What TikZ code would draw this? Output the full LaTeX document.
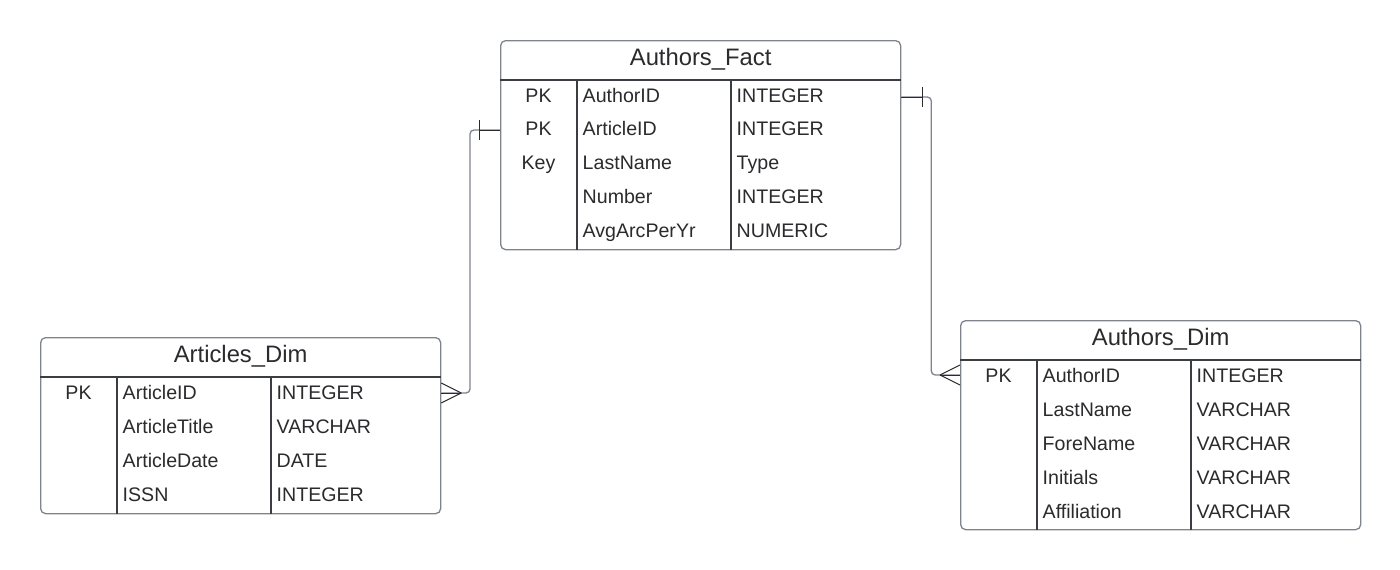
\documentclass[tikz,border=0pt]{standalone}
\usepackage{fontspec}
\setmainfont{Liberation Sans}
\definecolor{boxgray}{HTML}{7E838C}
\definecolor{inkdark}{HTML}{2B2B2E}
\definecolor{lined}{HTML}{3A3D42}
\tikzset{
  x=1pt, y=-1pt,
  entity/.style={draw=boxgray, line width=1.3pt, rounded corners=5pt, fill=white, anchor=north west, inner sep=0pt},
  divider/.style={draw=lined, line width=1.1pt},
  ttl/.style={text=inkdark, font=\fontsize{23.8}{27}\selectfont, inner sep=0pt, text height=17pt, text depth=0pt},
  cell/.style={text=inkdark, font=\fontsize{19.6}{23}\selectfont, inner sep=0pt, text height=14pt, text depth=0pt},
  conn/.style={draw=boxgray, line width=1.3pt, rounded corners=4pt},
  endmark/.style={draw=inkdark, line width=1pt},
}
\begin{document}
\begin{tikzpicture}
\useasboundingbox[fill=white] (0,0) rectangle (1400,570);

% ---------- Authors_Fact ----------
\node[entity, minimum width=400pt, minimum height=209pt] (fact) at (500,40) {};
\draw[divider] ([yshift=-40pt]fact.north west) -- ([yshift=-40pt]fact.north east);
\draw[divider] ([xshift=77pt,yshift=-40pt]fact.north west) -- ([xshift=77pt]fact.south west);
\draw[divider] ([xshift=231pt,yshift=-40pt]fact.north west) -- ([xshift=231pt]fact.south west);
\node[ttl] (factT) at ([yshift=-17pt]fact.north) {Authors\_Fact};
\foreach \k/\n/\t [count=\i] in {PK/AuthorID/INTEGER, PK/ArticleID/INTEGER, Key/LastName/Type, /Number/INTEGER, /AvgArcPerYr/NUMERIC}{
  \node[cell] (factk\i) at (538.5, {95+(\i-1)*33.8}) {\k};
  \node[cell, anchor=west] (factn\i) at (582.5, {95+(\i-1)*33.8}) {\n};
  \node[cell, anchor=west] (factt\i) at (736.5, {95+(\i-1)*33.8}) {\t};
}

% ---------- Articles_Dim ----------
\node[entity, minimum width=400pt, minimum height=176pt] (art) at (40,337) {};
\draw[divider] ([yshift=-40pt]art.north west) -- ([yshift=-40pt]art.north east);
\draw[divider] ([xshift=77pt,yshift=-40pt]art.north west) -- ([xshift=77pt]art.south west);
\draw[divider] ([xshift=231pt,yshift=-40pt]art.north west) -- ([xshift=231pt]art.south west);
\node[ttl] (artT) at ([yshift=-17pt]art.north) {Articles\_Dim};
\foreach \k/\n/\t [count=\i] in {PK/ArticleID/INTEGER, /ArticleTitle/VARCHAR, /ArticleDate/DATE, /ISSN/INTEGER}{
  \node[cell] (artk\i) at (78.5, {392+(\i-1)*34}) {\k};
  \node[cell, anchor=west] (artn\i) at (122.5, {392+(\i-1)*34}) {\n};
  \node[cell, anchor=west] (artt\i) at (276.5, {392+(\i-1)*34}) {\t};
}

% ---------- Authors_Dim ----------
\node[entity, minimum width=400pt, minimum height=209pt] (adim) at (960,320) {};
\draw[divider] ([yshift=-40pt]adim.north west) -- ([yshift=-40pt]adim.north east);
\draw[divider] ([xshift=77pt,yshift=-40pt]adim.north west) -- ([xshift=77pt]adim.south west);
\draw[divider] ([xshift=231pt,yshift=-40pt]adim.north west) -- ([xshift=231pt]adim.south west);
\node[ttl] (adimT) at ([yshift=-17pt]adim.north) {Authors\_Dim};
\foreach \k/\n/\t [count=\i] in {PK/AuthorID/INTEGER, /LastName/VARCHAR, /ForeName/VARCHAR, /Initials/VARCHAR, /Affiliation/VARCHAR}{
  \node[cell] (adimk\i) at (998.5, {375+(\i-1)*34}) {\k};
  \node[cell, anchor=west] (adimn\i) at (1042.5, {375+(\i-1)*34}) {\n};
  \node[cell, anchor=west] (adimt\i) at (1196.5, {375+(\i-1)*34}) {\t};
}

% ---------- connectors ----------
\coordinate (f1) at ([yshift=-90pt]fact.north west);
\coordinate (a1) at ([yshift=-56pt]art.north east);
\coordinate (f2) at ([yshift=-57pt]fact.north east);
\coordinate (d1) at ([yshift=-55pt]adim.north west);

\draw[conn] (f1) -- ++(-30,0) |- (a1);
\draw[endmark] ([xshift=-21pt,yshift=10pt]f1) -- ([xshift=-21pt,yshift=-10pt]f1);
\draw[endmark] ([xshift=-21pt]f1) -- (f1);
\draw[endmark] ([xshift=20pt]a1) -- ([yshift=10pt]a1);
\draw[endmark] ([xshift=20pt]a1) -- ([yshift=-10pt]a1);
\draw[endmark] ([xshift=20pt]a1) -- (a1);

\draw[conn] (f2) -- ++(30,0) |- (d1);
\draw[endmark] ([xshift=21pt,yshift=10pt]f2) -- ([xshift=21pt,yshift=-10pt]f2);
\draw[endmark] ([xshift=21pt]f2) -- (f2);
\draw[endmark] ([xshift=-20pt]d1) -- ([yshift=10pt]d1);
\draw[endmark] ([xshift=-20pt]d1) -- ([yshift=-10pt]d1);
\draw[endmark] ([xshift=-20pt]d1) -- (d1);
\end{tikzpicture}
\end{document}
